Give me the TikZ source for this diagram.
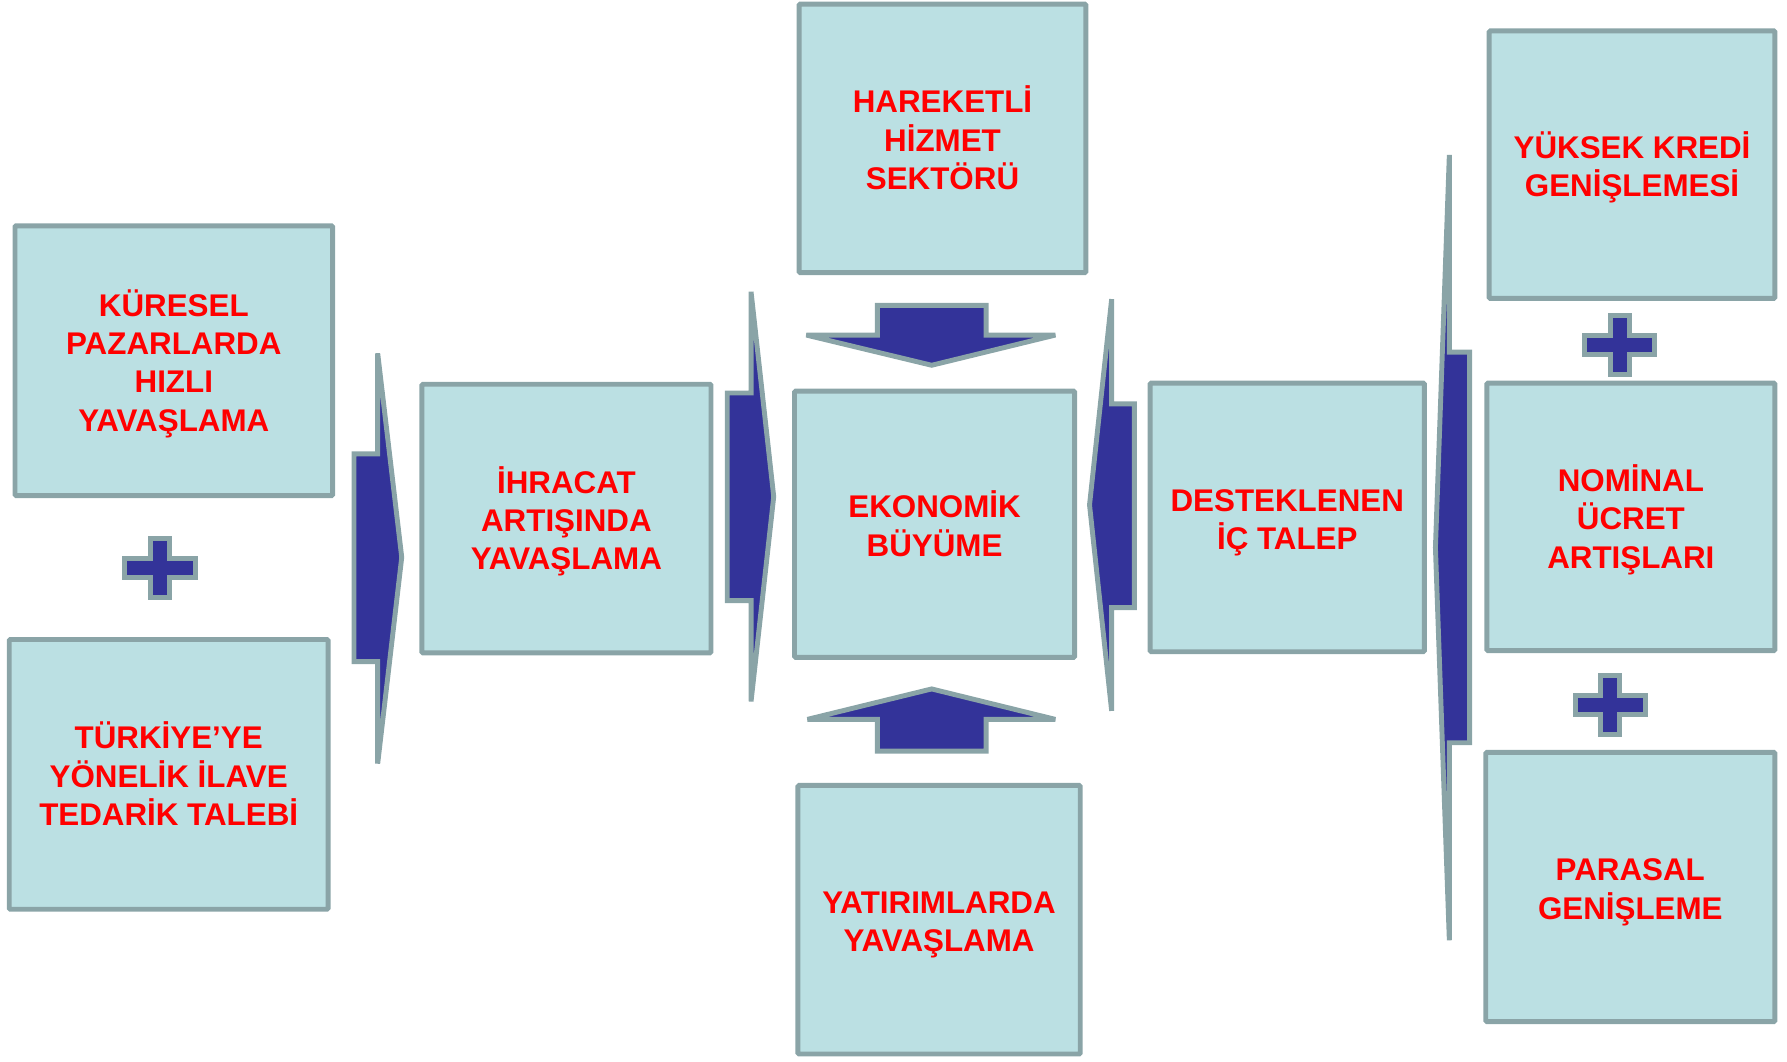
\documentclass[tikz,border=0pt]{standalone}
\usepackage{fontspec}
\setmainfont{Liberation Sans}
\definecolor{boxfill}{RGB}{187,224,227}
\definecolor{boxline}{RGB}{138,164,167}
\definecolor{arrowblue}{RGB}{51,51,153}
\definecolor{textred}{RGB}{255,0,0}
\newcommand{\mytop}{\rule{0pt}{28.7pt}}
\newcommand{\mybot}{\rule[-6pt]{0pt}{6pt}}
\tikzset{
  box/.style={draw=boxline, fill=boxfill, line width=4.3pt, rounded corners=1pt,
    inner sep=0pt, align=center, text=textred,
    font=\fontsize{27.5}{33.7}\selectfont\bfseries},
  arrowshape/.style={draw=boxline, fill=arrowblue, line width=4.3pt, miter limit=3},
  plusmark/.pic={
    \draw[arrowshape] (-30.8,-8.3) -- (-8.3,-8.3) -- (-8.3,-25.8) -- (8.3,-25.8)
      -- (8.3,-8.3) -- (30.8,-8.3) -- (30.8,8.3) -- (8.3,8.3) -- (8.3,25.8)
      -- (-8.3,25.8) -- (-8.3,8.3) -- (-30.8,8.3) -- cycle;
  }
}
\begin{document}
\begin{tikzpicture}[x=1pt,y=-1pt]
\useasboundingbox (0,0) rectangle (1568,931);

% boxes
\node[box, minimum width=278.7pt, minimum height=236.7pt] (kuresel) at (152.5,316.5)
  {\mytop KÜRESEL\\PAZARLARDA\\HIZLI\\YAVAŞLAMA\mybot};
\node[box, minimum width=279.7pt, minimum height=236.7pt] (turkiye) at (148,679.5)
  {\mytop TÜRKİYE’YE\\YÖNELİK İLAVE\\TEDARİK TALEBİ\mybot};
\node[box, minimum width=253.7pt, minimum height=235.7pt] (ihracat) at (497,455)
  {\mytop İHRACAT\\ARTIŞINDA\\YAVAŞLAMA\mybot};
\node[box, minimum width=245.7pt, minimum height=233.7pt] (ekonomik) at (820,460)
  {\mytop EKONOMİK\\BÜYÜME\mybot};
\node[box, minimum width=251.7pt, minimum height=235.5pt] (hareketli) at (827,121.4)
  {\mytop HAREKETLİ\\HİZMET\\SEKTÖRÜ\mybot};
\node[box, minimum width=247.7pt, minimum height=235.7pt] (yatirim) at (824,807)
  {\mytop YATIRIMLARDA\\YAVAŞLAMA\mybot};
\node[box, minimum width=240.7pt, minimum height=235.7pt] (destek) at (1129.5,454)
  {\mytop DESTEKLENEN\\İÇ TALEP\mybot};
\node[box, minimum width=250.7pt, minimum height=234.7pt] (yuksek) at (1432,144.5)
  {\mytop YÜKSEK KREDİ\\GENİŞLEMESİ\mybot};
\node[box, minimum width=252.7pt, minimum height=234.7pt] (nominal) at (1431,453.5)
  {\mytop NOMİNAL\\ÜCRET\\ARTIŞLARI\mybot};
\node[box, minimum width=253.7pt, minimum height=236.2pt] (parasal) at (1430.5,778.25)
  {\mytop PARASAL\\GENİŞLEME\mybot};

% chevron arrows
\draw[arrowshape] (331.4,310) -- (352.5,489) -- (331.4,670) -- (331.4,580.5)
  -- (310.6,580.5) -- (310.6,398.3) -- (331.4,398.3) -- cycle;
\draw[arrowshape] (659,256) -- (678.9,435.8) -- (659,615.5) -- (659,527)
  -- (638.1,527) -- (638.1,344.8) -- (659,344.8) -- cycle;
\draw[arrowshape] (975.4,262.5) -- (975.4,354.4) -- (995.3,354.4) -- (995.3,533.2)
  -- (975.4,533.2) -- (975.4,623.7) -- (956,443) -- cycle;
\draw[arrowshape] (1271.7,136) -- (1271.7,309) -- (1289.5,309) -- (1289.5,651.7)
  -- (1271.7,651.7) -- (1271.7,825) -- (1259.5,480.5) -- cycle;

% block arrows into EKONOMIK BUYUME
\draw[arrowshape] (769.8,268) -- (865.2,268) -- (865.2,294) -- (926,294)
  -- (817.5,320.5) -- (707.5,294) -- (769.8,294) -- cycle;
\draw[arrowshape] (817.5,604.5) -- (926,631.2) -- (865.2,631.2) -- (865.2,659)
  -- (769.8,659) -- (769.8,631.2) -- (708.5,631.2) -- cycle;

% plus signs
\pic (plusa) at (140.4,498.4) {plusmark};
\pic (plusb) at (1421.3,302.5) {plusmark};
\pic (plusc) at (1413,618.7) {plusmark};
\end{tikzpicture}
\end{document}
